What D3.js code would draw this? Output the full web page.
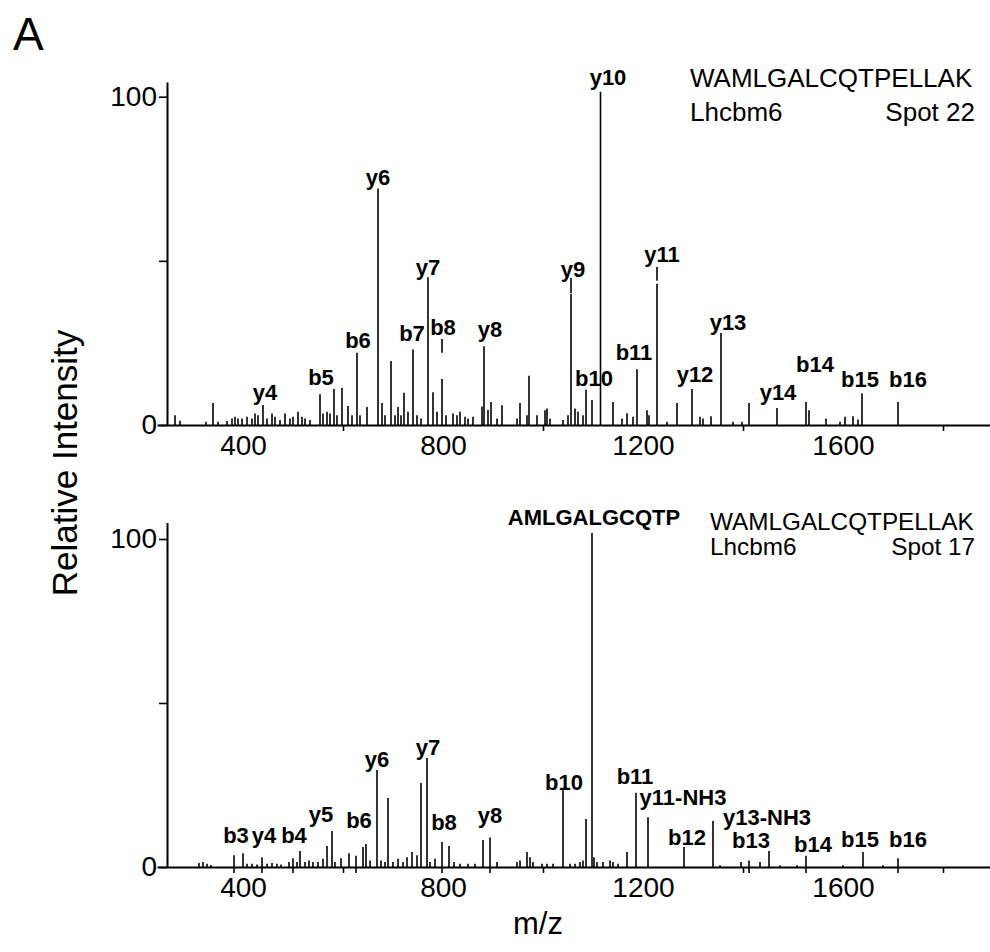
<!DOCTYPE html>
<html><head><meta charset="utf-8">
<script src="https://cdn.jsdelivr.net/npm/d3@7"></script>
<style>
body{margin:0;background:#fff}
svg{display:block}
text{font-family:"Liberation Sans",Arial,Helvetica,sans-serif;fill:#000}
</style>
</head><body>
<svg id="chart" width="990" height="952"></svg>
<script>
// ---------- DATA ----------
// Spot 22 spectrum: [m/z, relative intensity]
const topPeaks = [[264,3],[274,1.3],[326,1],[340,6.7],[350,1],[368,1.2],[378,2],[384,2.5],[390,2],[398,2],[408,2.5],[418,2],[424,3.5],[430,3],[440,6.1],[448,2],[458,3.5],[464,2.5],[474,1.5],[484,3.5],[494,2],[500,2.5],[510,4],[518,2.5],[524,2],[534,1.5],[554,9.4],[560,3.5],[568,4],[574,3.5],[582,11],[588,3],[598,11.3],[610,5.8],[618,3],[628,22],[634,3],[648,5.5],[670,72],[678,6.7],[684,3],[696,19.5],[704,3],[710,5.5],[716,3],[722,9.8],[730,4],[740,23],[748,3],[756,2],[770,45],[780,10],[788,4],[798,14],[806,3],[820,3.5],[828,3],[834,4],[844,2.5],[850,2],[860,2.5],[878,5.6],[882,24],[890,4.6],[896,7],[908,2],[918,6],[948,2],[954,6.7],[968,3],[972,15],[988,3],[1004,4.5],[1008,5],[1014,2],[1040,1.5],[1050,3],[1056,40],[1064,5],[1070,4],[1080,3],[1086,10.7],[1098,7.6],[1115,101.5],[1140,7],[1158,2],[1168,3.6],[1180,2.5],[1188,17],[1208,4.5],[1212,3],[1228,43],[1248,1],[1268,6.7],[1298,11],[1314,2.5],[1320,2],[1336,2.7],[1356,28],[1380,1],[1398,1],[1412,6.7],[1468,5.2],[1526,7],[1532,4.5],[1566,2],[1594,1],[1604,2.5],[1620,2.7],[1630,1.7],[1638,9.7],[1710,7]];
// labels: [text, m/z centre, intensity of baseline]
const topLabels = [["y4",444,7.6],["b5",556,12.2],["b6",630,23.5],["y6",670,73.1],["b7",738,25.6],["y7",770,45.7],["b8",800,27.4],["y8",894,26.8],["y9",1060,45.1],["y10",1130,103.6],["b10",1102,11.9],["b11",1182,19.8],["y11",1238,49.6],["y12",1304,13.1],["y13",1370,28.9],["y14",1470,7.6],["b14",1544,16.1],["b15",1634,11.6],["b16",1730,11.6]];
// short marker strokes above labelled peaks: [m/z, from, to]
const topLeaders = [[798,22,26.2],[1056,40.2,44.8],[1228,43.9,48.1]];

// Spot 17 spectrum
const bottomPeaks = [[312,1.2],[320,1.5],[328,1],[336,0.6],[382,3.6],[400,4.2],[408,1],[418,1],[428,0.8],[438,3],[448,1],[458,1.2],[468,1],[476,0.8],[492,1.5],[500,2.7],[508,1.5],[514,4.9],[524,1.5],[532,2],[540,1.5],[550,1.5],[560,2.5],[568,6.4],[578,11],[584,1.5],[596,2.7],[612,4.2],[626,3.4],[640,6.1],[646,7],[654,2],[668,29.6],[676,2],[684,1.5],[690,21],[700,1.5],[710,2.5],[720,1.5],[728,3],[738,4.6],[748,3.6],[756,25.6],[768,33.2],[774,1.5],[784,2.5],[798,7.6],[812,6.4],[822,1.5],[834,1],[850,1],[864,1],[880,8.2],[894,9],[908,1.5],[948,1.5],[954,2],[968,4.6],[974,3],[980,1.5],[998,1],[1008,1],[1020,1],[1040,23.5],[1054,1],[1064,1],[1074,1.5],[1080,2],[1086,14.6],[1098,101.8],[1102,3],[1108,1.5],[1120,1.5],[1134,2],[1140,1.5],[1150,1],[1168,4.6],[1186,22.6],[1210,15.2],[1282,6.1],[1340,14],[1354,0.5],[1396,1.5],[1412,2],[1434,1.5],[1452,4.9],[1474,0.5],[1508,0.5],[1526,3.4],[1600,0.5],[1640,4.6],[1680,0.5],[1710,2.7]];
const bottomLabels = [["b3",386,7.3],["y4",442,7.3],["b4",502,7.3],["y5",556,13.7],["b6",632,11.9],["y6",668,30.5],["y7",770,34.1],["b8",802,11.3],["y8",894,13.4],["b10",1042,23.5],["b11",1184,25.3],["y11-NH3",1280,18.9],["b12",1288,6.7],["y13-NH3",1448,12.8],["b13",1416,5.8],["b14",1540,4.6],["b15",1634,6.1],["b16",1730,6.1],["AMLGALGCQTP",1102,104.3]];
const bottomLeaders = [];
// marks below the axis at labelled ions (m/z)
const bottomMarks = [382,438,500,626,798,894,1412,1526,1710];
const topMarks = [];

const xTickValues = [600,1000,1400,1800];
const xLabelValues = [400,800,1200,1600];
const yTickValues = [0,50,100];
const yLabelValues = [0,100];

const topInfo = {peptide:"WAMLGALCQTPELLAK", protein:"Lhcbm6", spot:"Spot 22"};
const bottomInfo = {peptide:"WAMLGALCQTPELLAK", protein:"Lhcbm6", spot:"Spot 17"};

// ---------- LAYOUT ----------
const svg = d3.select("#chart");
const x = d3.scaleLinear().domain([228,1894]).range([157,990]);

const panels = [
  {peaks:topPeaks, labels:topLabels, leaders:topLeaders, marks:topMarks, info:topInfo,
   y:d3.scaleLinear().domain([0,104.5]).range([425,81.9]),
   infoX:690, infoSize:26, line1:87, line2:121},
  {peaks:bottomPeaks, labels:bottomLabels, leaders:bottomLeaders, marks:bottomMarks, info:bottomInfo,
   y:d3.scaleLinear().domain([0,105]).range([867,522.6]),
   infoX:710, infoSize:24.3, line1:530, line2:555}
];

panels.forEach(p => {
  const g = svg.append("g");
  const y = p.y;
  const y0 = y(0);

  g.append("g").selectAll("line").data(p.peaks).join("line")
    .attr("x1", d => x(d[0])).attr("x2", d => x(d[0]))
    .attr("y1", y0).attr("y2", d => y(d[1]))
    .attr("stroke", "#000").attr("stroke-width", 1.6);

  g.append("g").selectAll("line").data(p.leaders).join("line")
    .attr("x1", d => x(d[0])).attr("x2", d => x(d[0]))
    .attr("y1", d => y(d[1])).attr("y2", d => y(d[2]))
    .attr("stroke", "#000").attr("stroke-width", 1.6);

  g.append("g").selectAll("line").data(p.marks).join("line")
    .attr("x1", d => x(d)).attr("x2", d => x(d))
    .attr("y1", y0).attr("y2", y0 + 6)
    .attr("stroke", "#000").attr("stroke-width", 1.6);

  const xa = g.append("g").attr("transform", `translate(0,${y0})`)
    .call(d3.axisBottom(x).tickValues(xTickValues).tickSize(6).tickSizeOuter(0).tickFormat(""));
  xa.select(".domain").attr("stroke-width", 2);
  xa.selectAll(".tick line").attr("stroke-width", 1.6);

  const xl = g.append("g").attr("transform", `translate(0,${y0})`)
    .call(d3.axisBottom(x).tickValues(xLabelValues).tickSize(0).tickPadding(10).tickFormat(d3.format("d")));
  xl.select(".domain").remove();
  xl.selectAll("text").attr("font-size", 28).attr("font-family", null);

  const ya = g.append("g").attr("transform", `translate(${x(248)},0)`)
    .call(d3.axisLeft(y).tickValues(yTickValues).tickSize(8).tickPadding(2).tickSizeOuter(0)
      .tickFormat(d => yLabelValues.includes(d) ? d : ""));
  ya.select(".domain").attr("stroke-width", 2);
  ya.selectAll(".tick line").attr("stroke-width", 1.6);
  ya.selectAll("text").attr("font-size", 28).attr("font-family", null);

  g.append("g").selectAll("text").data(p.labels).join("text")
    .attr("x", d => x(d[1])).attr("y", d => y(d[2]))
    .attr("text-anchor", "middle").attr("font-weight", "bold").attr("font-size", 22)
    .text(d => d[0]);

  g.append("text").attr("x", p.infoX).attr("y", p.line1).attr("font-size", p.infoSize).text(p.info.peptide);
  g.append("text").attr("x", p.infoX).attr("y", p.line2).attr("font-size", p.infoSize).text(p.info.protein);
  g.append("text").attr("x", 975).attr("y", p.line2).attr("text-anchor", "end").attr("font-size", p.infoSize).text(p.info.spot);
});

svg.append("text").attr("x", 13).attr("y", 50).attr("font-size", 46).text("A");
svg.append("text").attr("transform", "translate(77,463) rotate(-90)")
  .attr("text-anchor", "middle").attr("font-size", 35).text("Relative Intensity");
svg.append("text").attr("x", 538).attr("y", 934).attr("text-anchor", "middle").attr("font-size", 31).text("m/z");
</script>
</body></html>
